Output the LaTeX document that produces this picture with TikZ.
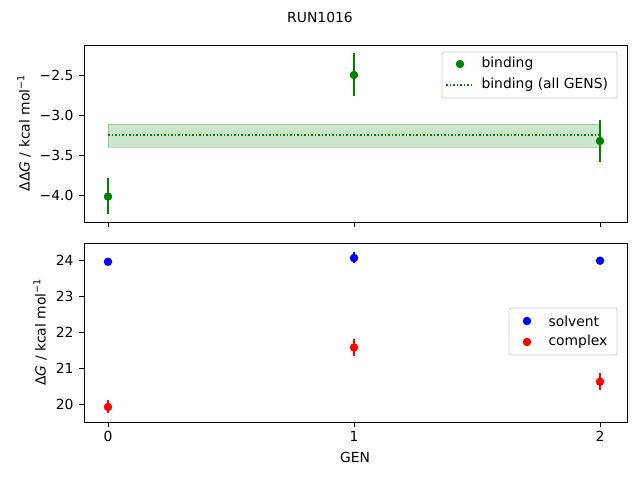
\documentclass[tikz,border=0pt]{standalone}
\usepackage{fontspec}
\setmainfont{DejaVu Sans}
\begin{document}
\begin{tikzpicture}[x=1pt,y=-1pt,font=\fontsize{13.9}{16}\selectfont,
  ax/.style={draw=black,line width=0.8pt},
  tk/.style={line width=0.8pt},
  gdot/.style={circle,fill=green!50!black,inner sep=0pt,minimum size=8.5pt},
  bdot/.style={circle,fill=blue,inner sep=0pt,minimum size=8.5pt},
  rdot/.style={circle,fill=red,inner sep=0pt,minimum size=8.5pt},
  gerr/.style={draw=green!50!black,line width=1.5pt},
  berr/.style={draw=blue,line width=1.5pt},
  rerr/.style={draw=red,line width=1.5pt},
  leg/.style={draw=black!20,fill=white,fill opacity=0.8,text opacity=1,rounded corners=2pt,line width=0.8pt}]
\useasboundingbox (0,0) rectangle (640,480);
\node (title) at (320,17) {RUN1016};
% top axes
\fill[green!50!black,opacity=0.2] (108,124) rectangle (600,147);
\draw[green!50!black,opacity=0.25,line width=1pt] (108,124) rectangle (600,147);
\draw[green!50!black,dotted,line width=1.5pt] (108,135) -- (600,135);
\draw[gerr] (108,178) -- (108,214); \node[gdot] (g0) at (108,196.6) {};
\draw[gerr] (354,53) -- (354,96); \node[gdot] (g1) at (354,75) {};
\draw[gerr] (600,120) -- (600,162); \node[gdot] (g2) at (600,141) {};
\draw[ax] (84,45) rectangle (627,222);
\foreach \v/\y in {−4.0/195,−3.5/155,−3.0/115,−2.5/75}{
  \draw[tk] (84,\y) -- (79,\y); \node[anchor=east] at (77,\y) {\v};}
\foreach \x in {108,354,600}{\draw[tk] (\x,222) -- (\x,227);}
\node[rotate=90] (ylt) at (24,133) {ΔΔ\textit{G} / kcal mol\textsuperscript{−1}};
\path[leg] (442,52) rectangle (617,98);
\node[gdot] (lg) at (460,64) {};
\node[anchor=west] at (478,64) {binding};
\draw[green!50!black,dotted,line width=1.5pt] (446,85) -- (474,85);
\node[anchor=west] at (478,85) {binding (all GENS)};
% bottom axes
\draw[berr] (108,258) -- (108,265); \node[bdot] (s0) at (108,261.8) {};
\draw[berr] (354,252) -- (354,263); \node[bdot] (s1) at (354,258) {};
\draw[berr] (600,257) -- (600,263); \node[bdot] (s2) at (600,260.7) {};
\draw[rerr] (108,400) -- (108,413); \node[rdot] (c0) at (108,407) {};
\draw[rerr] (354,339) -- (354,356); \node[rdot] (c1) at (354,347.5) {};
\draw[rerr] (600,373) -- (600,390); \node[rdot] (c2) at (600,381.7) {};
\draw[ax] (84,243) rectangle (627,422);
\foreach \v/\y in {20/404,21/368,22/332,23/296,24/260}{
  \draw[tk] (84,\y) -- (79,\y); \node[anchor=east] at (77,\y) {\v};}
\foreach \x/\l in {108/0,354/1,600/2}{\draw[tk] (\x,422) -- (\x,427); \node[anchor=north] at (\x,428) {\l};}
\node[rotate=90] (ylb) at (40,332) {Δ\textit{G} / kcal mol\textsuperscript{−1}};
\node (xl) at (355,457) {GEN};
\path[leg] (509,308) rectangle (617,355);
\node[bdot] (ls) at (527,321) {};
\node[anchor=west] at (545,321) {solvent};
\node[rdot] (lc) at (527,342) {};
\node[anchor=west] at (545,342) {complex};
\end{tikzpicture}
\end{document}
